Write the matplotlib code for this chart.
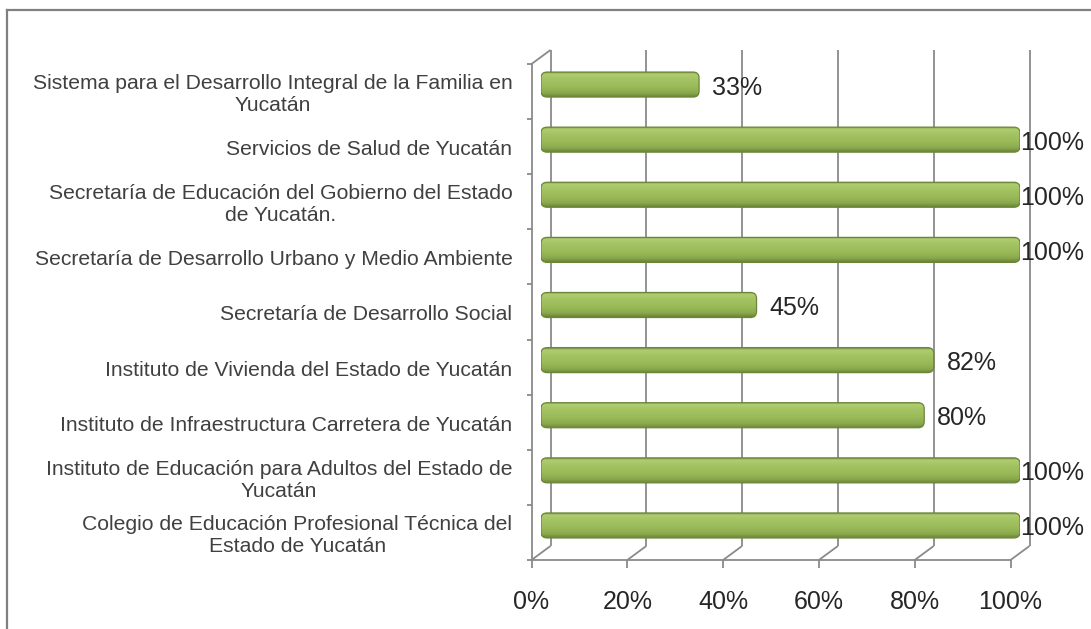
import matplotlib
matplotlib.use('Agg')
import matplotlib.pyplot as plt
from matplotlib.patches import FancyBboxPatch
from matplotlib.lines import Line2D
from matplotlib.colors import LinearSegmentedColormap
import numpy as np

plt.rcParams['font.family'] = ['Liberation Sans', 'DejaVu Sans']

categories = [
    "Sistema para el Desarrollo Integral de la Familia en\nYucatán",
    "Servicios de Salud de Yucatán",
    "Secretaría de Educación del Gobierno del Estado\nde Yucatán.",
    "Secretaría de Desarrollo Urbano y Medio Ambiente",
    "Secretaría de Desarrollo Social",
    "Instituto de Vivienda del Estado de Yucatán",
    "Instituto de Infraestructura Carretera de Yucatán",
    "Instituto de Educación para Adultos del Estado de\nYucatán",
    "Colegio de Educación Profesional Técnica del\nEstado de Yucatán",
]
values = [0.33, 1.00, 1.00, 1.00, 0.45, 0.82, 0.80, 1.00, 1.00]
data_labels = ["33%", "100%", "100%", "100%", "45%", "82%", "80%", "100%", "100%"]
tick_values = [0.0, 0.2, 0.4, 0.6, 0.8, 1.0]
tick_labels = ["0%", "20%", "40%", "60%", "80%", "100%"]

W, H = 1091, 629
fig = plt.figure(figsize=(W / 100, H / 100), dpi=100)
fig.patch.set_facecolor('white')

# axes = middle-depth plane of the pseudo-3D chart
L, R, T, B = 541, 1020, 57, 553
ax = fig.add_axes([L / W, 1 - B / H, (R - L) / W, (B - T) / H])
n = len(categories)
ax.set_xlim(0, 1)
ax.set_ylim(n - 0.5, -0.5)
ax.axis('off')

px_x = 1.0 / (R - L)
px_y = n / (B - T)
dx = 9.5 * px_x      # half depth, horizontal
dy = 7.0 * px_y      # half depth, vertical

grid_c = '#8a8a8a'
lw = 1.3

def line(xs, ys, **kw):
    ax.add_line(Line2D(xs, ys, color=grid_c, lw=lw, clip_on=False,
                       solid_capstyle='butt', **kw))

top, bot = -0.5, n - 0.5
# back wall gridlines + floor obliques + front ticks
for v in tick_values:
    line([v + dx, v + dx], [top - dy, bot - dy], zorder=1)
    line([v + dx, v - dx], [bot - dy, bot + dy], zorder=1)
    line([v - dx, v - dx], [bot + dy, bot + dy + 8 * px_y], zorder=1)
# front baseline
line([0 - dx, 1 - dx], [bot + dy, bot + dy], zorder=1)
# left wall
line([0 - dx, 0 - dx], [top + dy, bot + dy], zorder=1)
line([0 - dx, 0 + dx], [top + dy, top - dy], zorder=1)
for k in range(n + 1):
    yb = k - 0.5 + dy
    line([0 - dx - 5 * px_x, 0 - dx], [yb, yb], zorder=1)

# bars
bar_h = 25 * px_y
bars = ax.barh(range(n), values, height=bar_h, color='#9BBB59', zorder=2,
               edgecolor='none')
cmap = LinearSegmentedColormap.from_list(
    'g', [(0.0, '#7C9843'), (0.08, '#B0CE72'), (0.28, '#A4C363'),
          (0.6, '#9ABA58'), (0.85, '#89A74C'), (1.0, '#6A8535')])
grad = np.linspace(0, 1, 200).reshape(-1, 1)
for b in bars:
    x0, y0, w, h = b.get_x(), b.get_y(), b.get_width(), b.get_height()
    b.set_visible(False)
    patch = FancyBboxPatch((x0, y0), w, h,
                           boxstyle='round,pad=0,rounding_size=%f' % (6 * px_x),
                           mutation_aspect=px_y / px_x,
                           fc='none', ec='#6B8638', lw=0.9, zorder=4)
    ax.add_patch(patch)
    im = ax.imshow(grad, cmap=cmap, aspect='auto', origin='upper',
                   extent=(x0, x0 + w, y0 + h, y0), zorder=3,
                   interpolation='bilinear')
    im.set_clip_path(patch)

ax.set_xlim(0, 1)
ax.set_ylim(n - 0.5, -0.5)

# data labels
for i, (v, lab) in enumerate(zip(values, data_labels)):
    off = 13 * px_x if v < 1 else 0
    ax.text(v + off, i + 3 * px_y, lab, ha='left', va='center',
            fontsize=18, color='#262626', zorder=5, clip_on=False)

# category labels
for i, cat in enumerate(categories):
    ax.text(0 - dx - 19 * px_x, i + dy + 3 * px_y, cat, ha='right', va='center',
            multialignment='center', fontsize=15.2, color='#404040',
            linespacing=1.2, clip_on=False)

# x tick labels
for v, lab in zip(tick_values, tick_labels):
    ax.text(v - dx, bot + dy + 42 * px_y, lab, ha='center', va='center',
            fontsize=18, color='#262626', clip_on=False)

# outer frame (left and top edges visible)
fig.add_artist(Line2D([7 / W, 7 / W], [0, 1 - 10 / H], transform=fig.transFigure,
                      color='#808080', lw=1.6))
fig.add_artist(Line2D([7 / W, 1], [1 - 10 / H, 1 - 10 / H], transform=fig.transFigure,
                      color='#808080', lw=1.6))

fig.savefig('out.png', dpi=100, facecolor='white')
